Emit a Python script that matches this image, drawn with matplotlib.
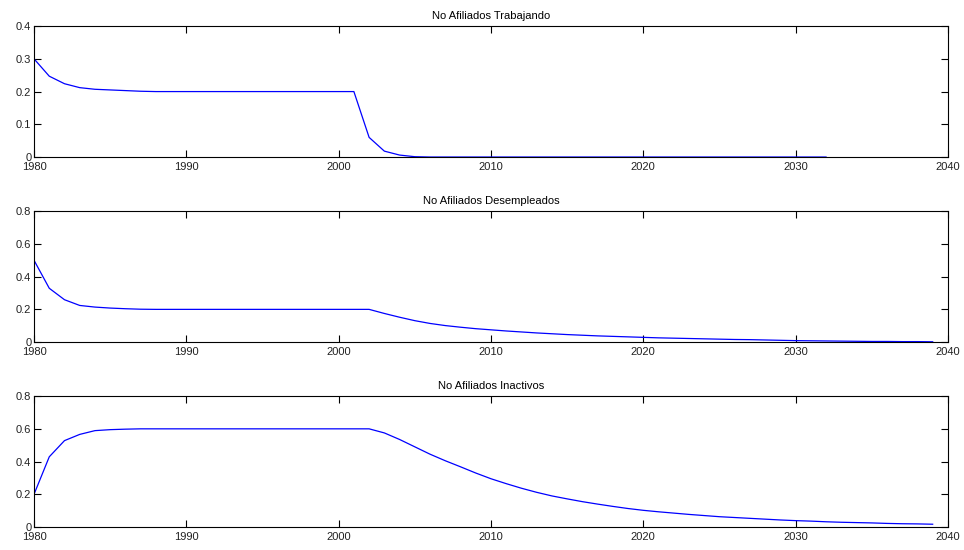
import matplotlib

matplotlib.use("Agg")
import matplotlib.pyplot as plt

# --- data ---
years_trabajando = list(range(1980, 2033))
trabajando = [
    0.30, 0.247, 0.224, 0.212, 0.207, 0.205, 0.203, 0.201, 0.20, 0.20,
    0.20, 0.20, 0.20, 0.20, 0.20, 0.20, 0.20, 0.20, 0.20, 0.20,
    0.20, 0.20, 0.06, 0.018, 0.006, 0.001, 0.0, 0.0, 0.0, 0.0,
    0.0, 0.0, 0.0, 0.0, 0.0, 0.0, 0.0, 0.0, 0.0, 0.0,
    0.0, 0.0, 0.0, 0.0, 0.0, 0.0, 0.0, 0.0, 0.0, 0.0,
    0.0, 0.0, 0.0,
]

years = list(range(1980, 2040))
desempleados = [
    0.50, 0.329, 0.259, 0.224, 0.214, 0.208, 0.204, 0.201, 0.20, 0.20,
    0.20, 0.20, 0.20, 0.20, 0.20, 0.20, 0.20, 0.20, 0.20, 0.20,
    0.20, 0.20, 0.20, 0.175, 0.152, 0.131, 0.114, 0.101, 0.091, 0.082,
    0.075, 0.068, 0.062, 0.056, 0.051, 0.046, 0.042, 0.038, 0.035, 0.032,
    0.029, 0.026, 0.024, 0.022, 0.020, 0.018, 0.016, 0.015, 0.013, 0.011,
    0.009, 0.008, 0.007, 0.006, 0.005, 0.004, 0.004, 0.003, 0.003, 0.002,
]
inactivos = [
    0.20, 0.429, 0.528, 0.566, 0.589, 0.595, 0.598, 0.60, 0.60, 0.60,
    0.60, 0.60, 0.60, 0.60, 0.60, 0.60, 0.60, 0.60, 0.60, 0.60,
    0.60, 0.60, 0.60, 0.575, 0.535, 0.49, 0.445, 0.405, 0.368, 0.33,
    0.295, 0.265, 0.237, 0.212, 0.19, 0.172, 0.155, 0.14, 0.126, 0.113,
    0.102, 0.093, 0.085, 0.077, 0.070, 0.063, 0.058, 0.053, 0.048, 0.043,
    0.039, 0.036, 0.032, 0.029, 0.027, 0.025, 0.022, 0.020, 0.019, 0.017,
]

titles = ["No Afiliados Trabajando", "No Afiliados Desempleados", "No Afiliados Inactivos"]
series = [(years_trabajando, trabajando), (years, desempleados), (years, inactivos)]
y_ticks = [[0, 0.1, 0.2, 0.3, 0.4], [0, 0.2, 0.4, 0.6, 0.8], [0, 0.2, 0.4, 0.6, 0.8]]
y_labels = [["0", "0.1", "0.2", "0.3", "0.4"], ["0", "0.2", "0.4", "0.6", "0.8"], ["0", "0.2", "0.4", "0.6", "0.8"]]
x_ticks = [1980, 1990, 2000, 2010, 2020, 2030, 2040]

plt.rcParams["font.family"] = ["Liberation Sans", "DejaVu Sans"]
plt.rcParams["font.size"] = 8

fig = plt.figure(figsize=(9.64, 5.5), dpi=100)
bottoms = [0.7145, 0.378, 0.0418]
for i, (title, (x, y)) in enumerate(zip(titles, series)):
    ax = fig.add_axes([0.0353, bottoms[i], 0.948, 0.238])
    ax.plot(x, y, color="#0000ff", linewidth=0.9)
    ax.set_xlim(1980, 2040)
    ax.set_ylim(y_ticks[i][0], y_ticks[i][-1])
    ax.set_xticks(x_ticks)
    ax.set_xticklabels([str(t) for t in x_ticks])
    ax.set_yticks(y_ticks[i])
    ax.set_yticklabels(y_labels[i])
    ax.tick_params(direction="in", top=True, right=True, length=5, width=0.8,
                   labelsize=8, colors="black", labelcolor="#222222")
    ax.tick_params(axis="x", pad=3.5)
    ax.tick_params(axis="y", pad=2)
    for spine in ax.spines.values():
        spine.set_linewidth(0.8)
    ax.set_title(title, fontsize=8, pad=5)

fig.savefig("out.png", dpi=100)
